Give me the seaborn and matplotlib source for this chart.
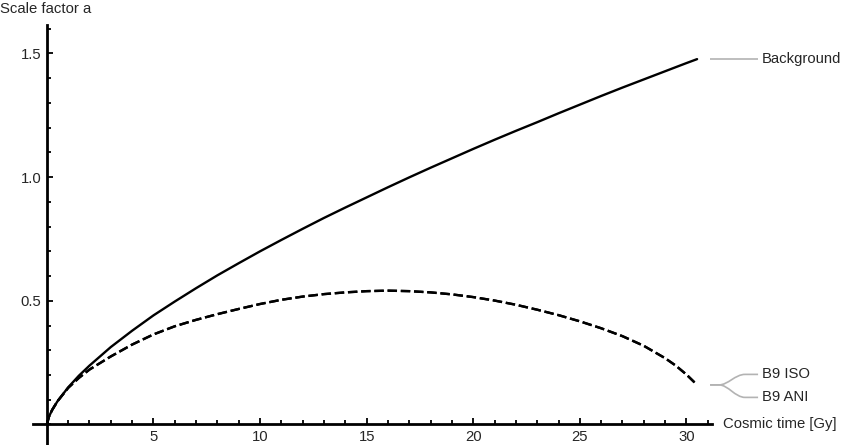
import numpy as np
import pandas as pd
import seaborn as sns
import matplotlib.pyplot as plt
import matplotlib.transforms as mtransforms
from matplotlib.path import Path
from matplotlib.patches import PathPatch
from matplotlib.ticker import MultipleLocator

# Valores
t_background = [0, 0.1, 0.25, 0.5, 1, 1.5, 2, 3, 4, 5, 6, 7, 8, 9, 10, 11, 12, 13, 14,
                15, 16, 17, 18, 19, 20, 21, 22, 23, 24, 25, 26, 27, 28, 29, 30, 30.5]
a_background = [0, 0.032, 0.059, 0.094, 0.150, 0.197, 0.238, 0.313, 0.379, 0.441,
                0.497, 0.551, 0.603, 0.652, 0.700, 0.746, 0.791, 0.835, 0.877,
                0.918, 0.959, 0.999, 1.038, 1.076, 1.114, 1.151, 1.187, 1.222,
                1.258, 1.293, 1.328, 1.362, 1.395, 1.428, 1.461, 1.477]

t_b9 = [0, 0.1, 0.25, 0.5, 1, 1.5, 2, 3, 4, 5, 6, 7, 8, 9, 10, 11, 12, 13, 14, 15,
        16, 17, 18, 19, 20, 21, 22, 23, 24, 25, 26, 27, 28, 29, 29.5, 30, 30.5]
a_b9_iso = [0, 0.032, 0.059, 0.094, 0.148, 0.188, 0.222, 0.275, 0.323, 0.364,
            0.397, 0.423, 0.446, 0.467, 0.487, 0.504, 0.517, 0.527, 0.534, 0.539,
            0.541, 0.539, 0.534, 0.526, 0.515, 0.501, 0.484, 0.464, 0.442, 0.417,
            0.389, 0.357, 0.318, 0.268, 0.238, 0.202, 0.160]
a_b9_ani = list(a_b9_iso)

x_ticks = [5, 10, 15, 20, 25, 30]
y_ticks = [0.5, 1.0, 1.5]

# Estilo
sns.set_style("white")
plt.rcParams['font.family'] = ['Liberation Sans', 'DejaVu Sans']
fontsize = 10.7
gray = '#b3b3b3'
lw = 1.7

fig = plt.figure(figsize=(8.64, 4.45), dpi=100)
W, H = 864, 445
ax = fig.add_axes([33 / W, 0, (712 - 33) / W, (445 - 25) / H])

bg = pd.DataFrame({'t': t_background, 'a': a_background})
iso = pd.DataFrame({'t': t_b9, 'a': a_b9_iso})
ani = pd.DataFrame({'t': t_b9, 'a': a_b9_ani})

sns.lineplot(data=bg, x='t', y='a', ax=ax, color='black', lw=lw,
             estimator=None, sort=False)
sns.lineplot(data=ani, x='t', y='a', ax=ax, color='black', lw=lw,
             linestyle=(0, (4.0, 1.6)), estimator=None, sort=False)
sns.lineplot(data=iso, x='t', y='a', ax=ax, color='black', lw=lw,
             linestyle=(0, (4.0, 1.6)), estimator=None, sort=False)

ax.set_xlim(-0.65, 31.2)
ax.set_ylim(-0.083, 1.615)
ax.set_xlabel('')
ax.set_ylabel('')

# Ejes cruzados en el origen
for side in ['top', 'right']:
    ax.spines[side].set_visible(False)
ax.spines['left'].set_position(('data', 0))
ax.spines['bottom'].set_position(('data', 0))
for side in ['left', 'bottom']:
    ax.spines[side].set_linewidth(2.0)
    ax.spines[side].set_color('black')

ax.set_xticks(x_ticks)
ax.set_yticks(y_ticks)
ax.set_xticklabels([str(v) for v in x_ticks])
ax.set_yticklabels(['%.1f' % v for v in y_ticks])
ax.xaxis.set_minor_locator(MultipleLocator(1))
ax.yaxis.set_minor_locator(MultipleLocator(0.1))
ax.tick_params(which='both', direction='in', color='black', width=1.3,
               labelsize=fontsize, bottom=True, left=True)
ax.tick_params(which='major', length=4, pad=4)
ax.tick_params(which='minor', length=3)
ax.patch.set_alpha(0)

# Titulos de ejes
fig.text(0.0, 1 - 9 / H, 'Scale factor a', fontsize=fontsize, va='center', ha='left')
ax.annotate('Cosmic time [Gy]', xy=(1, 0), xycoords=('axes fraction', 'data'),
            xytext=(11, 0), textcoords='offset pixels', va='center', ha='left',
            fontsize=fontsize, annotation_clip=False)

# Etiquetas a la derecha (estilo callout)
fig.canvas.draw()
px, py = ax.transData.transform((t_background[-1], a_background[-1]))
tr = mtransforms.Affine2D().translate(px, py)
line = Path([(13, 0), (61, 0)], [Path.MOVETO, Path.LINETO])
fig.add_artist(PathPatch(line, transform=tr, fc='none', ec=gray, lw=1.2))
fig.text(px + 65, py, 'Background', transform=None, va='center', ha='left',
         fontsize=fontsize)

px, py = ax.transData.transform((t_b9[-1], a_b9_iso[-1]))
tr = mtransforms.Affine2D().translate(px, py)
for dy, label in [(10.5, 'B9 ISO'), (-12.5, 'B9 ANI')]:
    verts = [(13, 0), (22, 0), (31, 0), (38, dy), (48, dy), (61, dy)]
    codes = [Path.MOVETO, Path.LINETO, Path.CURVE4, Path.CURVE4, Path.CURVE4, Path.LINETO]
    fig.add_artist(PathPatch(Path(verts, codes), transform=tr, fc='none', ec=gray, lw=1.2))
    fig.text(px + 65, py + dy, label, transform=None, va='center', ha='left',
             fontsize=fontsize)

plt.savefig('out.png', dpi=100, facecolor='white')
plt.close()
